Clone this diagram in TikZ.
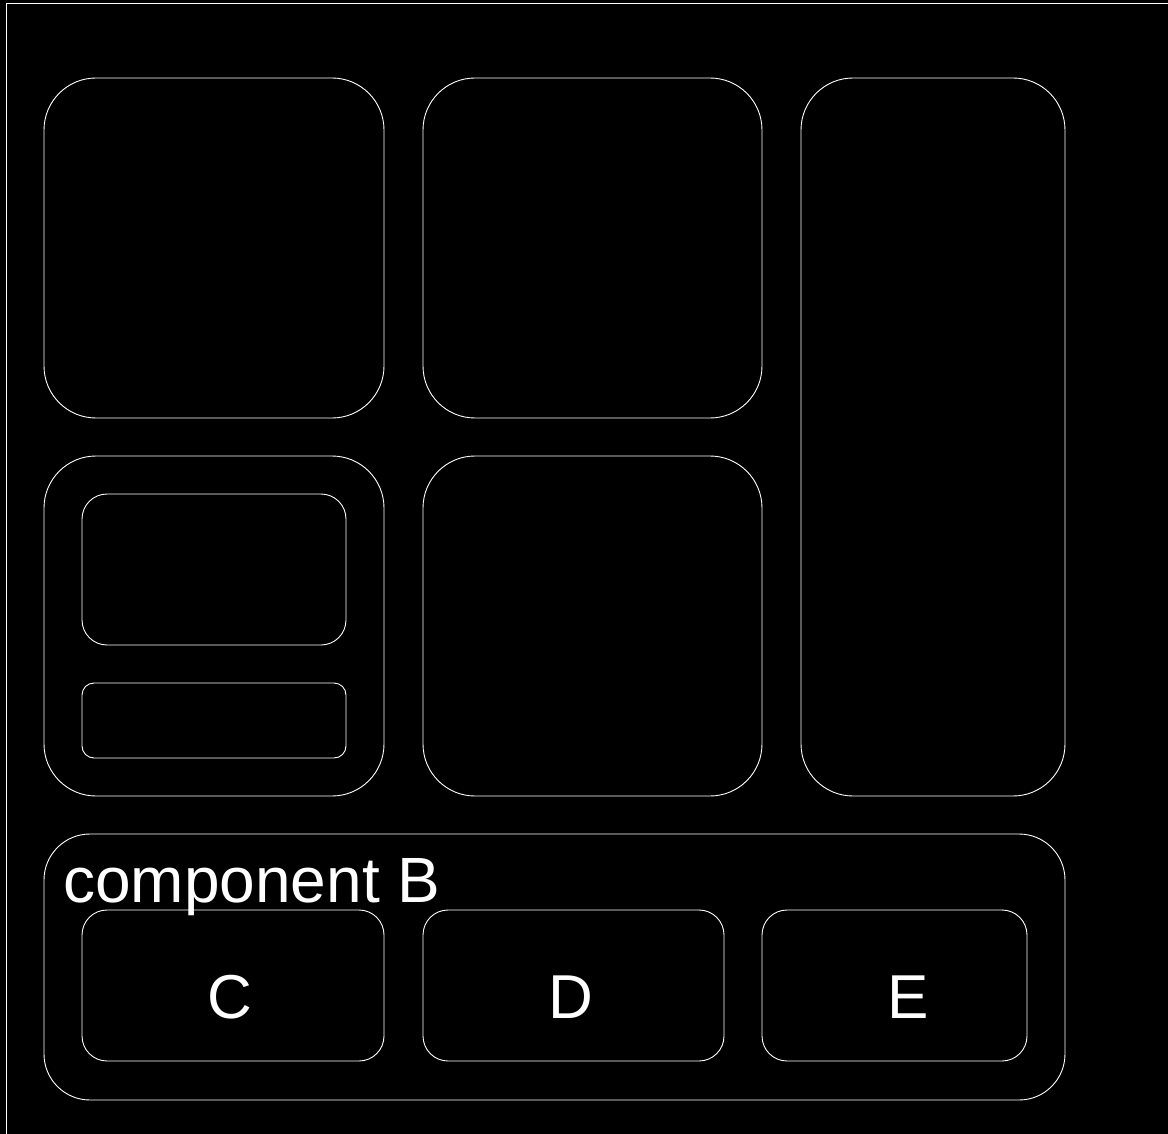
\documentclass[tikz,border=0pt]{standalone}
\usepackage{fontspec}
\setmainfont{Liberation Sans}
\begin{document}
\begin{tikzpicture}[x=1pt,y=-1pt,
  box/.style={draw=white, line width=0.9pt, anchor=north west, inner sep=0pt, outer sep=0pt},
  lbl/.style={text=white, font=\fontsize{62}{62}\selectfont, inner sep=0pt, anchor=base}]
\fill[black] (0,0) rectangle (1168,1134);
\useasboundingbox (0,0) rectangle (1168,1134);
\draw[white, line width=0.9pt] (6,1140) -- (6,3) -- (1170,3);
% top row
\node[box, rounded corners=52pt, minimum width=340pt, minimum height=340pt] (b1) at (44,78) {};
\node[box, rounded corners=52pt, minimum width=339pt, minimum height=340pt] (b2) at (423,78) {};
\node[box, rounded corners=52pt, minimum width=264pt, minimum height=718pt] (b3) at (801,78) {};
% second row
\node[box, rounded corners=52pt, minimum width=340pt, minimum height=340pt] (b4) at (44,456) {};
\node[box, rounded corners=25pt, minimum width=264pt, minimum height=151pt] (b4a) at (82,494) {};
\node[box, rounded corners=12pt, minimum width=264pt, minimum height=75pt] (b4b) at (82,683) {};
\node[box, rounded corners=52pt, minimum width=339pt, minimum height=340pt] (b5) at (423,456) {};
% component B
\node[box, rounded corners=46pt, minimum width=1021pt, minimum height=266pt] (cb) at (44,834) {};
\node[lbl, anchor=base west, font=\fontsize{64}{64}\selectfont] (cbl) at (63,902) {component B};
\node[box, rounded corners=25pt, minimum width=302pt, minimum height=151pt] (c) at (82,910) {};
\node[box, rounded corners=25pt, minimum width=301pt, minimum height=151pt] (d) at (423,910) {};
\node[box, rounded corners=25pt, minimum width=265pt, minimum height=151pt] (e) at (762,910) {};
\node[lbl] (cl) at (230,1018) {C};
\node[lbl] (dl) at (571,1018) {D};
\node[lbl] (el) at (908,1018) {E};
\end{tikzpicture}
\end{document}
